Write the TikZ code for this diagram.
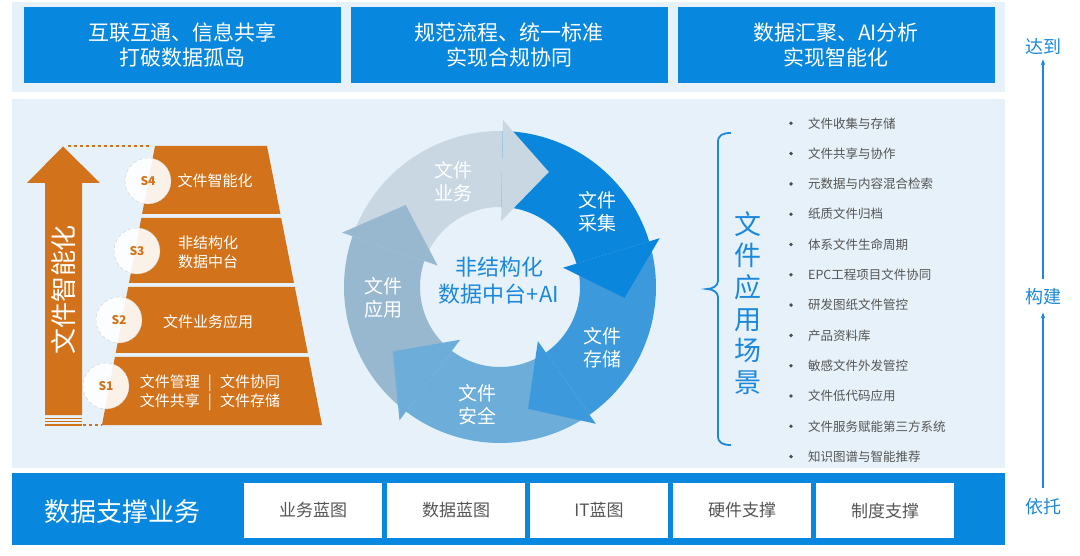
\documentclass[tikz,border=0pt]{standalone}
\usepackage{fontspec}
\setmainfont{Noto Sans CJK SC}
\usetikzlibrary{arrows.meta}
\newcommand\fsz[2]{\fontsize{#1}{#2}\selectfont}
\definecolor{bandbg}{RGB}{230,241,249}
\definecolor{mainblue}{RGB}{7,135,222}
\definecolor{txtblue}{RGB}{27,136,219}
\definecolor{orng}{RGB}{210,115,27}
\definecolor{lgray}{RGB}{85,85,85}
\definecolor{cA}{RGB}{201,215,227}
\definecolor{cB}{RGB}{10,134,220}
\definecolor{cC}{RGB}{60,154,220}
\definecolor{cD}{RGB}{108,173,217}
\definecolor{cE}{RGB}{152,184,208}
\tikzset{
  topbox/.style={fill=mainblue, minimum width=317pt, minimum height=76pt, inner sep=0pt, text=white, align=center, font=\fsz{21}{25}},
  botbox/.style={fill=white, minimum width=138pt, minimum height=55pt, inner sep=0pt, text=lgray, font=\fsz{17}{20}},
  rlab/.style={text=txtblue, font=\fsz{18}{20}, inner sep=0pt},
  scirc/.style={circle, minimum size=46pt, inner sep=0pt, fill=white, fill opacity=0.9, text opacity=1, draw=black!20, dashed, text=orng, font=\fsz{12}{14}\bfseries},
  ltxt/.style={text=white, font=\fsz{15}{19}, align=center, inner sep=0pt},
  ctxt/.style={text=white, font=\fsz{19}{23}, align=center, inner sep=0pt},
  litem/.style={anchor=west, text=lgray, font=\fsz{12.5}{14}, inner sep=0pt},
  uparrow/.style={txtblue, line width=1.3pt, -{Stealth[length=6pt,width=4.5pt]}}
}
\begin{document}
\begin{tikzpicture}[x=1pt,y=-1pt]
\useasboundingbox (0,0) rectangle (1080,556);
% bands
\fill[bandbg] (12,2) rectangle (1005,92);
\fill[bandbg] (12,99) rectangle (1005,468);
\fill[mainblue] (12,473) rectangle (1005,545);
% top boxes
\node[topbox] (t1) at (182.5,45) {互联互通、信息共享\\打破数据孤岛};
\node[topbox] (t2) at (509,45) {规范流程、统一标准\\实现合规协同};
\node[topbox] (t3) at (836,45) {数据汇聚、AI分析\\实现智能化};
% bottom band
\node[text=white, font=\fsz{26}{30}, inner sep=0pt] (sup) at (123,512) {数据支撑业务};
\node[botbox] (b1) at (313,510.5) {业务蓝图};
\node[botbox] (b2) at (456,510.5) {数据蓝图};
\node[botbox] (b3) at (599,510.5) {IT蓝图};
\node[botbox] (b4) at (742,510.5) {硬件支撑};
\node[botbox] (b5) at (885,510.5) {制度支撑};
% right labels
\node[rlab] (dd) at (1043,47) {达到};
\node[rlab] (gj) at (1043,297) {构建};
\node[rlab] (yt) at (1043,507) {依托};
\draw[uparrow, shorten <=10pt, shorten >=4pt] (gj) -- (dd);
\draw[uparrow, shorten <=10pt, shorten >=7pt] (yt) -- (gj);
% pyramid
\fill[orng] (155,146) -- (267,146) -- (280.4,214) -- (142.1,214) -- cycle;
\fill[orng] (141.3,218) -- (281.2,218) -- (294.0,283) -- (129.0,283) -- cycle;
\fill[orng] (128.2,287) -- (294.8,287) -- (307.8,353) -- (115.7,353) -- cycle;
\fill[orng] (114.9,357) -- (308.6,357) -- (322,425) -- (102,425) -- cycle;
\fill[orng] (45,415) -- (45,183) -- (27,183) -- (63,146.5) -- (100,183) -- (82,183) -- (82,415) -- cycle;
\foreach \yy in {418.3,421.7,425} \draw[orng, line width=1.3pt] (45,\yy) -- (82,\yy);
\draw[orng, dashed, line width=1.2pt] (68,146) -- (152,146);
\draw[orng, dashed, line width=1.2pt] (83,425) -- (102,425);
\node[rotate=90, text=white, font=\fsz{26}{30}, inner sep=0pt] (vt) at (63.5,290) {文件智能化};
\node[scirc] (s4) at (148,181) {S4};
\node[scirc] (s3) at (137,251) {S3};
\node[scirc] (s2) at (119,320) {S2};
\node[scirc] (s1) at (106,386) {S1};
\node[ltxt] (l4) at (215,181) {文件智能化};
\node[ltxt] (l3) at (208,252) {非结构化\\数据中台};
\node[ltxt] (l2) at (208,322) {文件业务应用};
\node[ltxt] (l1) at (210,393) {文件管理\hspace{8pt}|\hspace{8pt}文件协同\\文件共享\hspace{8pt}|\hspace{8pt}文件存储};
% cycle
\foreach \bb/\cc in {89/cA,17/cB,-55/cC,-127/cD,-199/cE}{
  \pgfmathsetmacro\ee{\bb+72}
  \fill[\cc] plot[domain=\ee:\bb,samples=40] ({500+156*cos(\x)},{287-156*sin(\x)}) -- plot[domain=\bb:\ee,samples=40] ({500+80*cos(\x)},{287-80*sin(\x)}) -- cycle;
}
\foreach \bb/\cc in {89/cA,17/cB,-55/cC,-127/cD,-199/cE}{
  \fill[\cc] ({500+66*cos(\bb)},{287-66*sin(\bb)}) -- ({500+167*cos(\bb)},{287-167*sin(\bb)}) -- ({500+125*cos(\bb-22)},{287-125*sin(\bb-22)}) -- cycle;
}
\node[ctxt] (cyA) at (453,182) {文件\\业务};
\node[ctxt] (cyB) at (597,212) {文件\\采集};
\node[ctxt] (cyC) at (602,348) {文件\\存储};
\node[ctxt] (cyD) at (477,405) {文件\\安全};
\node[ctxt] (cyE) at (383,298) {文件\\应用};
\node[text=txtblue, font=\fsz{22}{27}, align=center, inner sep=0pt] (hub) at (499,281) {非结构化\\数据中台+AI};
% brace and scenes
\draw[txtblue, line width=1.8pt] (731,133) .. controls (723,133) and (718,135) .. (718,142) -- (718,281) .. controls (718,286) and (712,289) .. (707,289) .. controls (712,289) and (718,292) .. (718,297) -- (718,436) .. controls (718,443) and (723,445) .. (731,445);
\node[text=txtblue, font=\fsz{27}{31.6}, align=center, inner sep=0pt] (scen) at (748,303) {文\\件\\应\\用\\场\\景};
\foreach \t [count=\i from 0] in {文件收集与存储,文件共享与协作,元数据与内容混合检索,纸质文件归档,体系文件生命周期,EPC工程项目文件协同,研发图纸文件管控,产品资料库,敏感文件外发管控,文件低代码应用,文件服务赋能第三方系统,知识图谱与智能推荐}{
  \pgfmathsetmacro\yy{123.3+30.3*\i}
  \fill[black!70] (791,\yy) circle (1.9pt);
  \node[litem] (li\i) at (808,\yy) {\t};
}
\end{tikzpicture}
\end{document}
